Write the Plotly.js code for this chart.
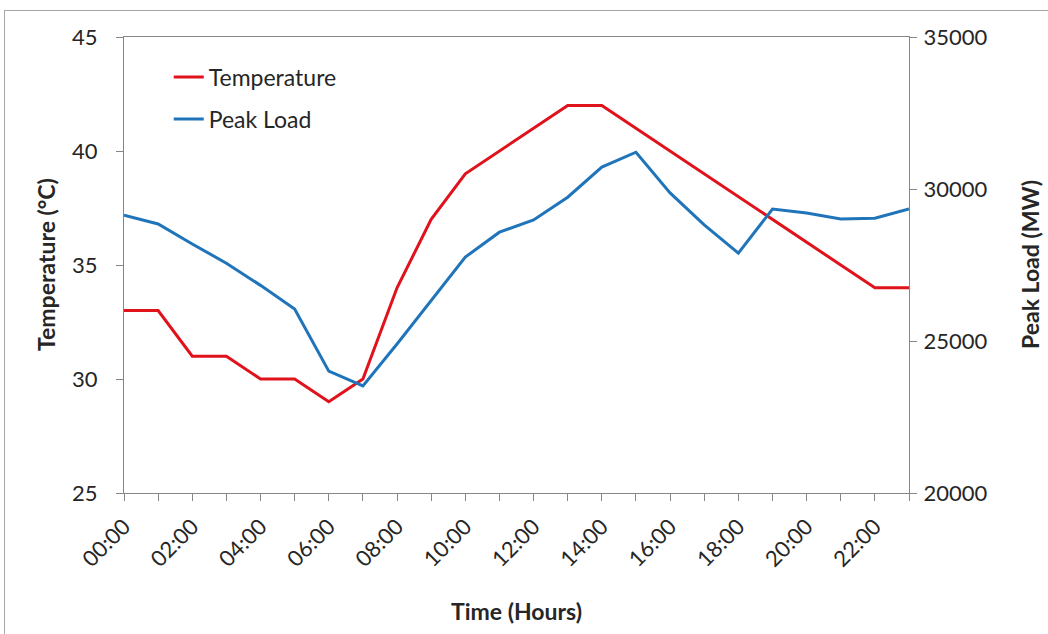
<!DOCTYPE html>
<html>
<head>
<meta charset="utf-8">
<script src="https://cdn.plot.ly/plotly-3.0.1.min.js"></script>
<style>
html,body{margin:0;padding:0;background:#fff;}
#wrap{position:relative;width:1048px;height:634px;overflow:hidden;}
#frame{position:absolute;left:4px;top:10px;width:1100px;height:700px;border:1px solid #a6a6a6;box-sizing:border-box;}
#chart{position:absolute;left:0;top:0;width:1048px;height:634px;}
</style>
</head>
<body>
<div id="wrap"><div id="frame"></div><div id="chart"></div></div>
<script>
const hours = ["00:00","01:00","02:00","03:00","04:00","05:00","06:00","07:00","08:00","09:00","10:00","11:00",
               "12:00","13:00","14:00","15:00","16:00","17:00","18:00","19:00","20:00","21:00","22:00","23:00"];
const temperature = [33,33,31,31,30,30,29,30,34,37,39,40,41,42,42,41,40,39,38,37,36,35,34,34];
const peakLoad = [29140,28850,28190,27560,26830,26050,24010,23520,24900,26320,27760,28580,
                  28980,29730,30720,31210,29870,28820,27890,29340,29210,29010,29040,29340];
const tickLabels = hours.map((h,i)=> i%2===0 ? h : "");

const fontFam = "Lato, 'Open Sans', sans-serif";
const txt = "#262626";
const data = [
  {x: hours, y: temperature, name: "Temperature", type: "scatter", mode: "lines",
   line: {color: "#E0121B", width: 3}, yaxis: "y", legend: "legend"},
  {x: hours, y: peakLoad, name: "Peak Load", type: "scatter", mode: "lines",
   line: {color: "#1F74BA", width: 3}, yaxis: "y2", legend: "legend2"}
];
const legFont = {size: 23, family: fontFam, color: txt};
const titleFont = {size: 23, family: fontFam, color: txt};
const layout = {
  width: 1048, height: 634,
  paper_bgcolor: "rgba(0,0,0,0)", plot_bgcolor: "rgba(0,0,0,0)",
  margin: {l: 124, r: 139, t: 37, b: 141, pad: 0},
  font: {family: fontFam, color: txt, size: 22},
  showlegend: true,
  legend: {x: 0.057, y: 0.912, xanchor: "left", yanchor: "middle", bgcolor: "rgba(0,0,0,0)", font: legFont},
  legend2: {x: 0.057, y: 0.820, xanchor: "left", yanchor: "middle", bgcolor: "rgba(0,0,0,0)", font: legFont},
  xaxis: {type: "category", range: [0, 23], tickmode: "array", tickvals: hours, ticktext: tickLabels,
          tickangle: -45, ticks: "outside", ticklen: 7, tickcolor: "#868686",
          showline: true, linecolor: "#868686", linewidth: 1, mirror: true,
          showgrid: false, zeroline: false, ticklabelstandoff: 4,
          tickfont: {size: 22, family: fontFam, color: txt},
          title: {text: "<b>Time (Hours)</b>", font: titleFont, standoff: 33}},
  yaxis: {range: [25, 45], dtick: 5, ticks: "outside", ticklen: 7, tickcolor: "#868686",
          showline: true, linecolor: "#868686", showgrid: false, zeroline: false,
          ticklabelstandoff: 14,
          tickfont: {size: 22, family: fontFam, color: txt}},
  yaxis2: {range: [20000, 35000], dtick: 5000, tickformat: "d", overlaying: "y", side: "right",
           ticks: "outside", ticklen: 7, tickcolor: "#868686",
           showline: true, linecolor: "#868686", showgrid: false, zeroline: false,
           ticklabelstandoff: 2,
           tickfont: {size: 22, family: fontFam, color: txt}},
  annotations: [
    {text: "<b>Temperature (°C)</b>", xref: "paper", yref: "paper", x: (46-124)/785, y: 0.5,
     xanchor: "center", yanchor: "middle", textangle: -90, showarrow: false, font: titleFont},
    {text: "<b>Peak Load (MW)</b>", xref: "paper", yref: "paper", x: (1030-124)/785, y: 0.5,
     xanchor: "center", yanchor: "middle", textangle: -90, showarrow: false, font: titleFont}
  ]
};
Plotly.newPlot("chart", data, layout, {displayModeBar: false, staticPlot: true});
</script>
</body>
</html>
